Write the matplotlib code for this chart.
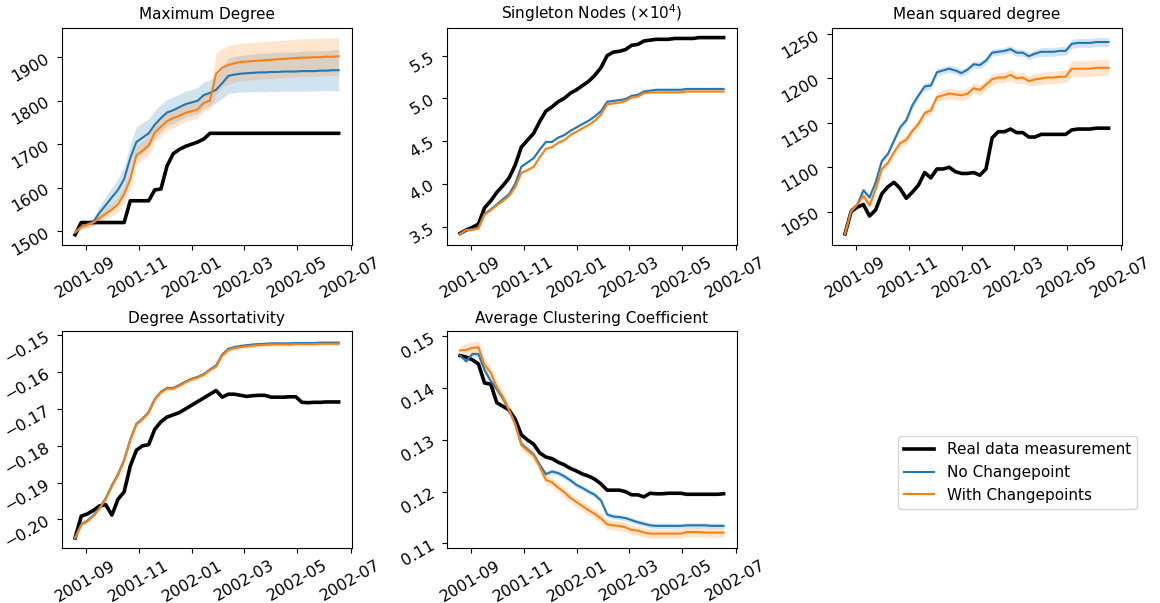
import numpy as np
import pandas as pd
import matplotlib
matplotlib.use("Agg")
import matplotlib.pyplot as plt
import matplotlib.dates as mdates
from matplotlib.lines import Line2D

# weekly snapshots
dates = pd.date_range("2001-08-20", periods=44, freq="7D")

# Maximum degree
max_real = [1492, 1520, 1520, 1520, 1520, 1520, 1520, 1520, 1520, 1570, 1570,
            1570, 1570, 1595, 1597, 1650, 1678, 1688, 1695, 1700, 1705, 1712,
            1725, 1725, 1725, 1725, 1725, 1725, 1725, 1725, 1725, 1725, 1725,
            1725, 1725, 1725, 1725, 1725, 1725, 1725, 1725, 1725, 1725, 1725]
max_none = [1498, 1510, 1516, 1522, 1543, 1560, 1578, 1595, 1620, 1668, 1705,
            1715, 1725, 1745, 1760, 1773, 1778, 1785, 1792, 1796, 1800, 1813,
            1818, 1825, 1840, 1857, 1860, 1862, 1863, 1864, 1865, 1865, 1866,
            1866, 1867, 1867, 1867, 1868, 1868, 1868, 1869, 1869, 1870, 1870]
max_none_sd = [3, 5, 8, 10, 15, 20, 22, 25, 28, 32, 36, 35, 33, 32, 32, 30, 30,
               30, 30, 30, 30, 30, 30, 30, 35, 40, 42, 42, 43, 43, 44, 44, 44,
               45, 45, 45, 45, 46, 46, 46, 46, 46, 47, 47]
max_cp = [1497, 1510, 1515, 1520, 1530, 1540, 1550, 1562, 1585, 1620, 1675,
          1685, 1697, 1727, 1740, 1753, 1760, 1765, 1772, 1776, 1780, 1795,
          1800, 1862, 1876, 1882, 1886, 1889, 1890, 1891, 1892, 1893, 1894,
          1895, 1896, 1897, 1898, 1899, 1899, 1900, 1900, 1901, 1901, 1902]
max_cp_sd = [3, 5, 6, 8, 10, 12, 15, 18, 20, 22, 22, 22, 22, 22, 22, 22, 22,
             20, 20, 20, 20, 20, 20, 48, 45, 44, 43, 43, 43, 43, 43, 43, 43,
             43, 43, 43, 43, 43, 43, 43, 43, 43, 43, 43]

# Singleton nodes (units of 1e4)
sing_real = [3.42, 3.46, 3.49, 3.53, 3.72, 3.80, 3.90, 3.98, 4.07, 4.22, 4.43,
             4.51, 4.59, 4.73, 4.85, 4.90, 4.96, 5.00, 5.06, 5.10, 5.15, 5.20,
             5.27, 5.36, 5.50, 5.54, 5.55, 5.57, 5.62, 5.63, 5.67, 5.68, 5.69,
             5.69, 5.69, 5.70, 5.70, 5.70, 5.70, 5.71, 5.71, 5.71, 5.71, 5.71]
sing_none = [3.42, 3.46, 3.47, 3.49, 3.65, 3.70, 3.76, 3.82, 3.88, 4.00, 4.20,
             4.25, 4.30, 4.40, 4.49, 4.49, 4.54, 4.57, 4.62, 4.66, 4.70, 4.74,
             4.79, 4.85, 4.96, 4.97, 4.98, 4.99, 5.03, 5.04, 5.08, 5.09, 5.10,
             5.10, 5.10, 5.10, 5.10, 5.11, 5.11, 5.11, 5.11, 5.11, 5.11, 5.11]
sing_none_sd = [0.005, 0.006, 0.007, 0.008, 0.008, 0.008, 0.008, 0.008, 0.008,
                0.009, 0.009, 0.009, 0.009, 0.009, 0.009, 0.009, 0.009, 0.009,
                0.009, 0.009, 0.010, 0.010, 0.010, 0.010, 0.010, 0.010, 0.010,
                0.010, 0.010, 0.010, 0.010, 0.010, 0.010, 0.010, 0.010, 0.010,
                0.010, 0.010, 0.010, 0.010, 0.010, 0.010, 0.010, 0.010]
sing_cp = [3.41, 3.46, 3.46, 3.48, 3.64, 3.69, 3.75, 3.80, 3.86, 3.96, 4.13,
           4.16, 4.20, 4.31, 4.41, 4.43, 4.48, 4.51, 4.57, 4.61, 4.65, 4.69,
           4.74, 4.81, 4.93, 4.94, 4.95, 4.97, 5.01, 5.02, 5.06, 5.07, 5.07,
           5.07, 5.07, 5.07, 5.07, 5.08, 5.08, 5.08, 5.08, 5.08, 5.08, 5.08]
sing_cp_sd = [0.005, 0.006, 0.007, 0.008, 0.008, 0.009, 0.009, 0.009, 0.010,
              0.010, 0.010, 0.010, 0.010, 0.010, 0.010, 0.010, 0.010, 0.010,
              0.010, 0.010, 0.011, 0.011, 0.011, 0.011, 0.011, 0.011, 0.011,
              0.011, 0.011, 0.011, 0.011, 0.011, 0.011, 0.011, 0.011, 0.011,
              0.011, 0.011, 0.011, 0.011, 0.011, 0.011, 0.011, 0.011]

# Mean squared degree
msd_real = [1025, 1050, 1055, 1058, 1045, 1052, 1070, 1078, 1083, 1076, 1065,
            1072, 1080, 1094, 1088, 1098, 1098, 1100, 1095, 1093, 1093, 1094,
            1091, 1098, 1133, 1140, 1140, 1143, 1139, 1139, 1134, 1134, 1137,
            1137, 1137, 1137, 1137, 1142, 1143, 1143, 1143, 1144, 1144, 1144]
msd_none = [1025, 1052, 1058, 1074, 1066, 1083, 1107, 1115, 1130, 1145, 1153,
            1170, 1181, 1191, 1192, 1207, 1209, 1211, 1209, 1206, 1210, 1216,
            1215, 1220, 1229, 1230, 1231, 1233, 1229, 1229, 1225, 1228, 1230,
            1230, 1230, 1231, 1231, 1239, 1240, 1240, 1240, 1241, 1241, 1241]
msd_none_sd = [1, 2, 2, 3, 3, 3, 3, 3, 3, 3, 4, 4, 4, 4, 4, 4, 4, 4, 4, 4, 4,
               4, 4, 4, 4, 4, 4, 4, 4, 4, 4, 4, 5, 5, 5, 5, 5, 5, 5, 5, 5, 5,
               5, 5]
msd_cp = [1025, 1050, 1058, 1068, 1057, 1075, 1098, 1105, 1117, 1127, 1131,
          1141, 1149, 1161, 1164, 1179, 1181, 1183, 1182, 1181, 1183, 1189,
          1187, 1193, 1199, 1201, 1201, 1204, 1200, 1201, 1197, 1199, 1200,
          1201, 1201, 1202, 1202, 1211, 1211, 1211, 1211, 1212, 1212, 1212]
msd_cp_sd = [1, 2, 2, 3, 3, 4, 4, 4, 5, 5, 5, 5, 5, 5, 5, 5, 6, 6, 6, 6, 6, 6,
             6, 6, 6, 6, 6, 6, 6, 6, 6, 7, 7, 7, 7, 7, 7, 9, 9, 9, 9, 9, 9, 9]

# Degree assortativity
assort_real = [-0.2050, -0.1991, -0.1985, -0.1975, -0.1963, -0.1960, -0.1988,
               -0.1945, -0.1925, -0.1855, -0.1812, -0.1800, -0.1797, -0.1755,
               -0.1735, -0.1722, -0.1716, -0.1710, -0.1700, -0.1690, -0.1680,
               -0.1670, -0.1660, -0.1650, -0.1668, -0.1660, -0.1660, -0.1663,
               -0.1666, -0.1664, -0.1663, -0.1663, -0.1668, -0.1668, -0.1668,
               -0.1667, -0.1667, -0.1682, -0.1683, -0.1682, -0.1682, -0.1681,
               -0.1681, -0.1681]
assort_none = [-0.2050, -0.2013, -0.2003, -0.1988, -0.1968, -0.1942, -0.1907,
               -0.1877, -0.1838, -0.1783, -0.1740, -0.1726, -0.1708, -0.1673,
               -0.1653, -0.1643, -0.1643, -0.1635, -0.1626, -0.1618, -0.1613,
               -0.1605, -0.1593, -0.1582, -0.1552, -0.1537, -0.1532, -0.1529,
               -0.1527, -0.1525, -0.1524, -0.1523, -0.1522, -0.1522, -0.1522,
               -0.1522, -0.1521, -0.1521, -0.1521, -0.1521, -0.1520, -0.1520,
               -0.1520, -0.1520]
assort_none_sd = [0.0001, 0.0002, 0.0003, 0.0003, 0.0003, 0.0004, 0.0004,
                  0.0004, 0.0004, 0.0004, 0.0004, 0.0004, 0.0004, 0.0004,
                  0.0004, 0.0004, 0.0004, 0.0004, 0.0004, 0.0004, 0.0004,
                  0.0004, 0.0004, 0.0004, 0.0004, 0.0004, 0.0004, 0.0004,
                  0.0004, 0.0004, 0.0004, 0.0004, 0.0004, 0.0004, 0.0004,
                  0.0004, 0.0004, 0.0004, 0.0004, 0.0004, 0.0004, 0.0004,
                  0.0004, 0.0004]
assort_cp = [-0.2050, -0.2015, -0.2005, -0.1990, -0.1970, -0.1945, -0.1910,
             -0.1880, -0.1840, -0.1785, -0.1742, -0.1728, -0.1710, -0.1675,
             -0.1655, -0.1645, -0.1645, -0.1637, -0.1628, -0.1620, -0.1615,
             -0.1607, -0.1595, -0.1585, -0.1555, -0.1540, -0.1535, -0.1532,
             -0.1530, -0.1528, -0.1527, -0.1526, -0.1525, -0.1525, -0.1525,
             -0.1525, -0.1524, -0.1524, -0.1524, -0.1524, -0.1523, -0.1523,
             -0.1523, -0.1523]
assort_cp_sd = [0.0001, 0.0002, 0.0003, 0.0003, 0.0004, 0.0004, 0.0004,
                0.0005, 0.0005, 0.0005, 0.0005, 0.0005, 0.0005, 0.0005,
                0.0005, 0.0005, 0.0005, 0.0005, 0.0005, 0.0005, 0.0005,
                0.0005, 0.0005, 0.0005, 0.0005, 0.0005, 0.0005, 0.0005,
                0.0005, 0.0005, 0.0005, 0.0005, 0.0005, 0.0005, 0.0005,
                0.0005, 0.0005, 0.0005, 0.0005, 0.0005, 0.0005, 0.0005,
                0.0005, 0.0005]

# Average clustering coefficient
clust_real = [0.1463, 0.1460, 0.1455, 0.1447, 0.1410, 0.1408, 0.1372, 0.1365,
              0.1358, 0.1340, 0.1310, 0.1300, 0.1292, 0.1275, 0.1267, 0.1264,
              0.1257, 0.1252, 0.1245, 0.1240, 0.1234, 0.1230, 0.1224, 0.1215,
              0.1203, 0.1203, 0.1203, 0.1200, 0.1194, 0.1194, 0.1190, 0.1197,
              0.1196, 0.1196, 0.1197, 0.1197, 0.1197, 0.1195, 0.1195, 0.1195,
              0.1195, 0.1195, 0.1195, 0.1196]
clust_none = [0.1463, 0.1452, 0.1466, 0.1466, 0.1435, 0.1414, 0.1398, 0.1380,
              0.1357, 0.1332, 0.1292, 0.1282, 0.1272, 0.1252, 0.1234, 0.1239,
              0.1236, 0.1230, 0.1222, 0.1213, 0.1207, 0.1200, 0.1194, 0.1183,
              0.1156, 0.1152, 0.1151, 0.1149, 0.1145, 0.1141, 0.1138, 0.1135,
              0.1134, 0.1134, 0.1134, 0.1134, 0.1134, 0.1135, 0.1135, 0.1135,
              0.1135, 0.1134, 0.1134, 0.1134]
clust_none_sd = [0.0002, 0.0004, 0.0005, 0.0005, 0.0005, 0.0005, 0.0005,
                 0.0005, 0.0005, 0.0005, 0.0005, 0.0005, 0.0005, 0.0005,
                 0.0005, 0.0005, 0.0005, 0.0005, 0.0005, 0.0005, 0.0005,
                 0.0005, 0.0005, 0.0005, 0.0005, 0.0005, 0.0005, 0.0005,
                 0.0005, 0.0005, 0.0005, 0.0005, 0.0005, 0.0005, 0.0005,
                 0.0005, 0.0005, 0.0005, 0.0005, 0.0005, 0.0005, 0.0005,
                 0.0005, 0.0005]
clust_cp = [0.1473, 0.1474, 0.1478, 0.1479, 0.1445, 0.1430, 0.1402, 0.1383,
            0.1358, 0.1330, 0.1290, 0.1280, 0.1270, 0.1248, 0.1223, 0.1218,
            0.1208, 0.1199, 0.1188, 0.1180, 0.1172, 0.1164, 0.1157, 0.1148,
            0.1137, 0.1135, 0.1134, 0.1131, 0.1126, 0.1125, 0.1121, 0.1119,
            0.1119, 0.1119, 0.1119, 0.1119, 0.1119, 0.1122, 0.1122, 0.1122,
            0.1121, 0.1121, 0.1121, 0.1121]
clust_cp_sd = [0.0010, 0.0012, 0.0012, 0.0012, 0.0012, 0.0012, 0.0012,
               0.0011, 0.0010, 0.0010, 0.0009, 0.0009, 0.0009, 0.0009,
               0.0009, 0.0009, 0.0009, 0.0009, 0.0009, 0.0009, 0.0009,
               0.0009, 0.0009, 0.0009, 0.0009, 0.0009, 0.0009, 0.0009,
               0.0009, 0.0009, 0.0009, 0.0009, 0.0009, 0.0009, 0.0009,
               0.0009, 0.0009, 0.0009, 0.0009, 0.0009, 0.0009, 0.0009,
               0.0009, 0.0009]

panels = [
    ("Maximum Degree", max_real, max_none, max_none_sd, max_cp, max_cp_sd),
    (r"Singleton Nodes ($\times10^4$)", sing_real, sing_none, sing_none_sd,
     sing_cp, sing_cp_sd),
    ("Mean squared degree", msd_real, msd_none, msd_none_sd, msd_cp, msd_cp_sd),
    ("Degree Assortativity", assort_real, assort_none, assort_none_sd,
     assort_cp, assort_cp_sd),
    ("Average Clustering Coefficient", clust_real, clust_none, clust_none_sd,
     clust_cp, clust_cp_sd),
]

fig, axes = plt.subplots(2, 3, figsize=(11.6, 6.03), dpi=100)
fig.subplots_adjust(left=0.0534, right=0.967, top=0.954, bottom=0.091,
                    wspace=0.328, hspace=0.40)

for ax, (title, real, none, none_sd, cp, cp_sd) in zip(axes.flat, panels):
    none, none_sd = np.array(none), np.array(none_sd)
    cp, cp_sd = np.array(cp), np.array(cp_sd)
    ax.plot(dates, real, color="black", lw=2.6)
    ax.plot(dates, none, color="C0", lw=1.5)
    ax.fill_between(dates, none - none_sd, none + none_sd, color="C0",
                    alpha=0.2, lw=0)
    ax.plot(dates, cp, color="C1", lw=1.5)
    ax.fill_between(dates, cp - cp_sd, cp + cp_sd, color="C1",
                    alpha=0.2, lw=0)
    ax.set_title(title, fontsize=11)
    ax.xaxis.set_major_locator(mdates.MonthLocator(bymonth=[1, 3, 5, 7, 9, 11]))
    ax.xaxis.set_major_formatter(mdates.DateFormatter("%Y-%m"))
    ax.tick_params(axis="both", labelsize=11.5, labelrotation=30)

axes[0, 0].set_yticks([1500, 1600, 1700, 1800, 1900])
axes[0, 1].set_yticks([3.5, 4.0, 4.5, 5.0, 5.5])
axes[0, 2].set_yticks([1050, 1100, 1150, 1200, 1250])
axes[1, 0].set_yticks([-0.20, -0.19, -0.18, -0.17, -0.16, -0.15])
axes[1, 1].set_yticks([0.11, 0.12, 0.13, 0.14, 0.15])

axes[1, 2].axis("off")

handles = [Line2D([], [], color="black", lw=2.6),
           Line2D([], [], color="C0", lw=1.5),
           Line2D([], [], color="C1", lw=1.5)]
labels = ["Real data measurement", "No Changepoint", "With Changepoints"]
fig.legend(handles, labels, loc="center", bbox_to_anchor=(0.877, 0.2165),
           fontsize=11)

fig.savefig("out.png", dpi=100)
